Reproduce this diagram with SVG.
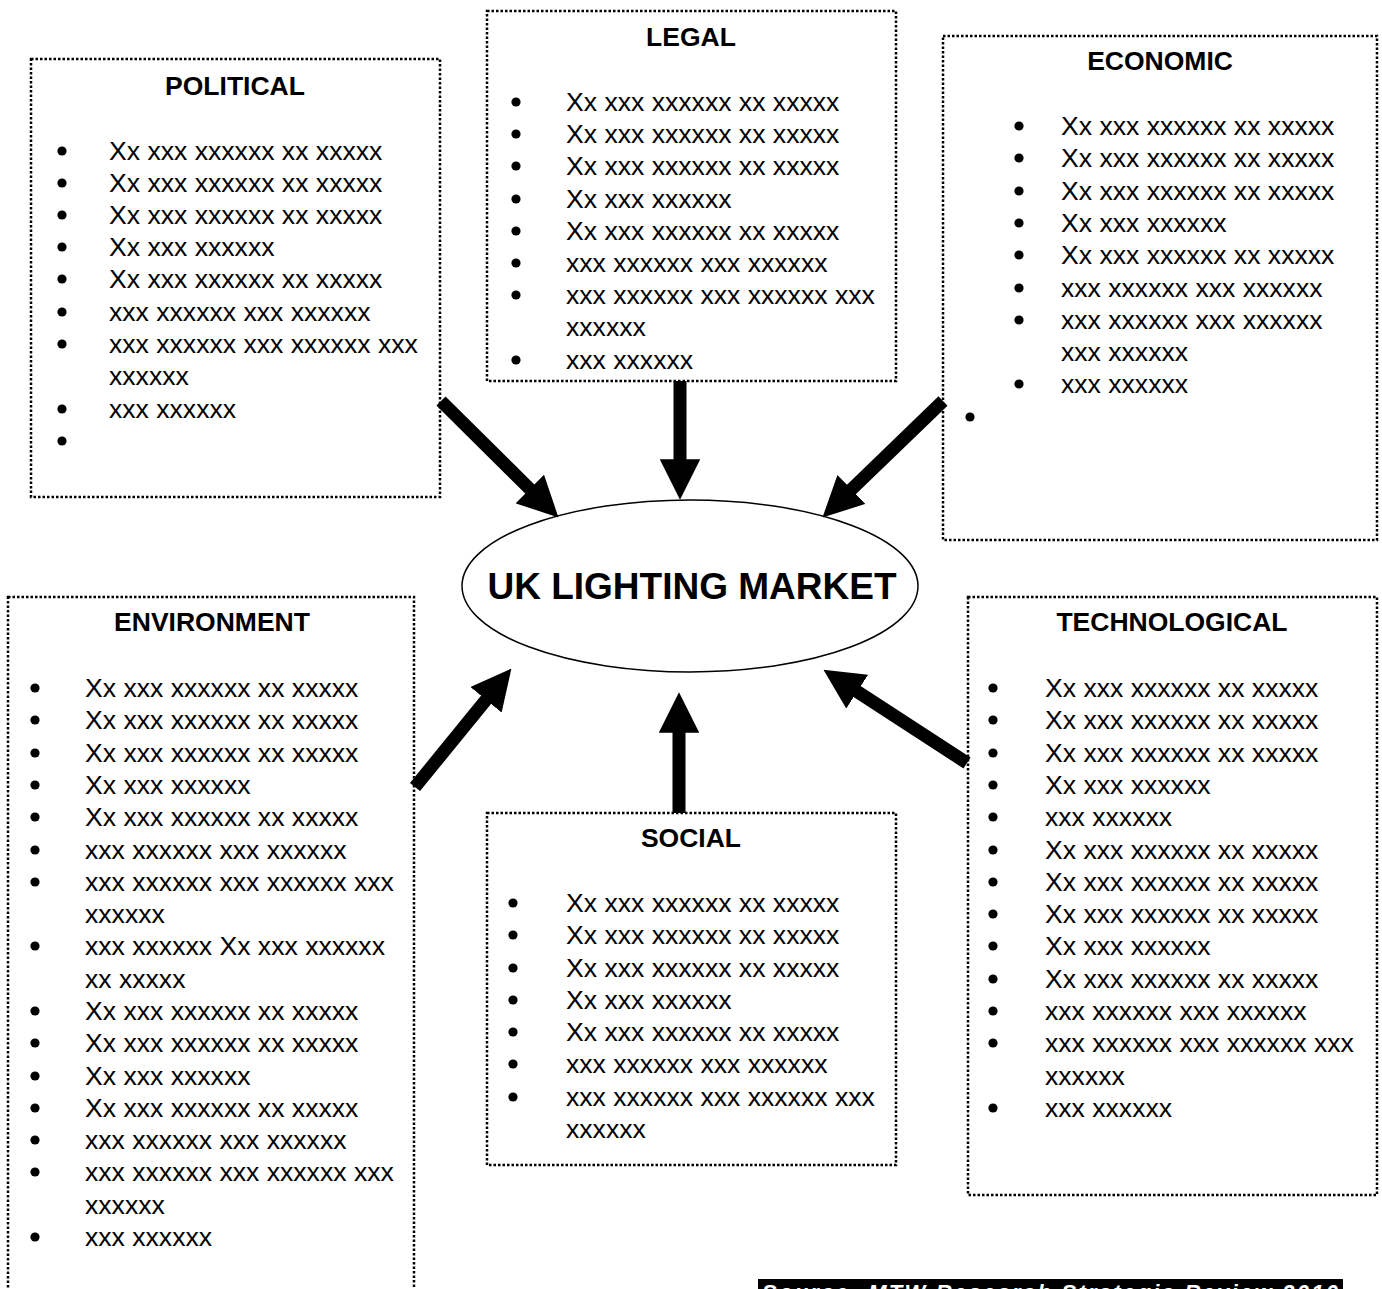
<svg xmlns="http://www.w3.org/2000/svg" width="1382" height="1289" viewBox="0 0 1382 1289">
  <style>
    .box { fill: #ffffff; stroke: #000000; stroke-width: 2.5; stroke-dasharray: 2.5 2; }
    .title { font-family: "Liberation Sans", Arial, sans-serif; font-weight: bold; font-size: 26.5px; text-anchor: middle; fill: #000; }
    .item { font-family: "Liberation Sans", Arial, sans-serif; font-size: 26.6px; fill: #000; }
    .hub { fill: #ffffff; stroke: #000000; stroke-width: 1.5; }
    .hubtext { font-family: "Liberation Sans", Arial, sans-serif; font-weight: bold; font-size: 37px; text-anchor: middle; fill: #000; }
    .arrow { stroke: #000000; stroke-width: 13; fill: none; marker-end: url(#head); }
    .source { font-family: "Liberation Sans", Arial, sans-serif; font-weight: bold; font-style: italic; font-size: 22px; fill: #ffffff; }
  </style>
  <defs>
    <marker id="head" markerUnits="strokeWidth" markerWidth="3.1" markerHeight="3.1" viewBox="0 0 3.1 3.1" refX="0.05" refY="1.55" orient="auto">
      <path d="M0,0 L3.1,1.55 L0,3.1 z" fill="#000000"/>
    </marker>
    <!-- list bullet, centred on its anchor point -->
    <circle id="b" r="4.6" fill="#000000"/>
  </defs>
  <rect width="1382" height="1289" fill="#ffffff"/>

  <!-- POLITICAL -->
  <g id="political">
    <rect class="box" x="31" y="59" width="409" height="438"/>
    <text class="title" x="235" y="95">POLITICAL</text>
    <g transform="translate(62,-9)">
      <use href="#b" y="160"/><use href="#b" y="192"/><use href="#b" y="224"/>
      <use href="#b" y="256"/><use href="#b" y="288"/><use href="#b" y="321"/>
      <use href="#b" y="353"/><use href="#b" y="418"/><use href="#b" y="450"/>
    </g>
    <text class="item" x="109" y="160">Xx xxx xxxxxx xx xxxxx</text>
    <text class="item" x="109" y="192">Xx xxx xxxxxx xx xxxxx</text>
    <text class="item" x="109" y="224">Xx xxx xxxxxx xx xxxxx</text>
    <text class="item" x="109" y="256">Xx xxx xxxxxx</text>
    <text class="item" x="109" y="288">Xx xxx xxxxxx xx xxxxx</text>
    <text class="item" x="109" y="321">xxx xxxxxx xxx xxxxxx</text>
    <text class="item" x="109" y="353">xxx xxxxxx xxx xxxxxx xxx</text>
    <text class="item" x="109" y="385">xxxxxx</text>
    <text class="item" x="109" y="418">xxx xxxxxx</text>
  </g>

  <!-- LEGAL -->
  <g id="legal">
    <rect class="box" x="487" y="11" width="409" height="370"/>
    <text class="title" x="691" y="46">LEGAL</text>
    <g transform="translate(516,-9)">
      <use href="#b" y="111"/><use href="#b" y="143"/><use href="#b" y="175"/>
      <use href="#b" y="208"/><use href="#b" y="240"/><use href="#b" y="272"/>
      <use href="#b" y="304"/><use href="#b" y="369"/>
    </g>
    <text class="item" x="566" y="111">Xx xxx xxxxxx xx xxxxx</text>
    <text class="item" x="566" y="143">Xx xxx xxxxxx xx xxxxx</text>
    <text class="item" x="566" y="175">Xx xxx xxxxxx xx xxxxx</text>
    <text class="item" x="566" y="208">Xx xxx xxxxxx</text>
    <text class="item" x="566" y="240">Xx xxx xxxxxx xx xxxxx</text>
    <text class="item" x="566" y="272">xxx xxxxxx xxx xxxxxx</text>
    <text class="item" x="566" y="304">xxx xxxxxx xxx xxxxxx xxx</text>
    <text class="item" x="566" y="336">xxxxxx</text>
    <text class="item" x="566" y="369">xxx xxxxxx</text>
  </g>

  <!-- ECONOMIC -->
  <g id="economic">
    <rect class="box" x="943" y="36" width="434" height="504"/>
    <text class="title" x="1160" y="70">ECONOMIC</text>
    <g transform="translate(1019,-9)">
      <use href="#b" y="135"/><use href="#b" y="167"/><use href="#b" y="200"/>
      <use href="#b" y="232"/><use href="#b" y="264"/><use href="#b" y="297"/>
      <use href="#b" y="329"/><use href="#b" y="393"/><use href="#b" x="-49" y="426"/>
    </g>
    <text class="item" x="1061" y="135">Xx xxx xxxxxx xx xxxxx</text>
    <text class="item" x="1061" y="167">Xx xxx xxxxxx xx xxxxx</text>
    <text class="item" x="1061" y="200">Xx xxx xxxxxx xx xxxxx</text>
    <text class="item" x="1061" y="232">Xx xxx xxxxxx</text>
    <text class="item" x="1061" y="264">Xx xxx xxxxxx xx xxxxx</text>
    <text class="item" x="1061" y="297">xxx xxxxxx xxx xxxxxx</text>
    <text class="item" x="1061" y="329">xxx xxxxxx xxx xxxxxx</text>
    <text class="item" x="1061" y="361">xxx xxxxxx</text>
    <text class="item" x="1061" y="393">xxx xxxxxx</text>
  </g>

  <!-- ENVIRONMENT -->
  <g id="environment">
    <rect class="box" x="8" y="597" width="406" height="720"/>
    <text class="title" x="212" y="631">ENVIRONMENT</text>
    <g transform="translate(35,-9)">
      <use href="#b" y="697"/><use href="#b" y="729"/><use href="#b" y="762"/>
      <use href="#b" y="794"/><use href="#b" y="826"/><use href="#b" y="859"/>
      <use href="#b" y="891"/><use href="#b" y="955"/><use href="#b" y="1020"/>
      <use href="#b" y="1052"/><use href="#b" y="1085"/><use href="#b" y="1117"/>
      <use href="#b" y="1149"/><use href="#b" y="1181"/><use href="#b" y="1246"/>
    </g>
    <text class="item" x="85" y="697">Xx xxx xxxxxx xx xxxxx</text>
    <text class="item" x="85" y="729">Xx xxx xxxxxx xx xxxxx</text>
    <text class="item" x="85" y="762">Xx xxx xxxxxx xx xxxxx</text>
    <text class="item" x="85" y="794">Xx xxx xxxxxx</text>
    <text class="item" x="85" y="826">Xx xxx xxxxxx xx xxxxx</text>
    <text class="item" x="85" y="859">xxx xxxxxx xxx xxxxxx</text>
    <text class="item" x="85" y="891">xxx xxxxxx xxx xxxxxx xxx</text>
    <text class="item" x="85" y="923">xxxxxx</text>
    <text class="item" x="85" y="955">xxx xxxxxx Xx xxx xxxxxx</text>
    <text class="item" x="85" y="988">xx xxxxx</text>
    <text class="item" x="85" y="1020">Xx xxx xxxxxx xx xxxxx</text>
    <text class="item" x="85" y="1052">Xx xxx xxxxxx xx xxxxx</text>
    <text class="item" x="85" y="1085">Xx xxx xxxxxx</text>
    <text class="item" x="85" y="1117">Xx xxx xxxxxx xx xxxxx</text>
    <text class="item" x="85" y="1149">xxx xxxxxx xxx xxxxxx</text>
    <text class="item" x="85" y="1181">xxx xxxxxx xxx xxxxxx xxx</text>
    <text class="item" x="85" y="1214">xxxxxx</text>
    <text class="item" x="85" y="1246">xxx xxxxxx</text>
  </g>

  <!-- TECHNOLOGICAL -->
  <g id="technological">
    <rect class="box" x="968" y="597" width="409" height="598"/>
    <text class="title" x="1172" y="631">TECHNOLOGICAL</text>
    <g transform="translate(993,-9)">
      <use href="#b" y="697"/><use href="#b" y="729"/><use href="#b" y="762"/>
      <use href="#b" y="794"/><use href="#b" y="826"/><use href="#b" y="859"/>
      <use href="#b" y="891"/><use href="#b" y="923"/><use href="#b" y="955"/>
      <use href="#b" y="988"/><use href="#b" y="1020"/><use href="#b" y="1052"/>
      <use href="#b" y="1117"/>
    </g>
    <text class="item" x="1045" y="697">Xx xxx xxxxxx xx xxxxx</text>
    <text class="item" x="1045" y="729">Xx xxx xxxxxx xx xxxxx</text>
    <text class="item" x="1045" y="762">Xx xxx xxxxxx xx xxxxx</text>
    <text class="item" x="1045" y="794">Xx xxx xxxxxx</text>
    <text class="item" x="1045" y="826">xxx xxxxxx</text>
    <text class="item" x="1045" y="859">Xx xxx xxxxxx xx xxxxx</text>
    <text class="item" x="1045" y="891">Xx xxx xxxxxx xx xxxxx</text>
    <text class="item" x="1045" y="923">Xx xxx xxxxxx xx xxxxx</text>
    <text class="item" x="1045" y="955">Xx xxx xxxxxx</text>
    <text class="item" x="1045" y="988">Xx xxx xxxxxx xx xxxxx</text>
    <text class="item" x="1045" y="1020">xxx xxxxxx xxx xxxxxx</text>
    <text class="item" x="1045" y="1052">xxx xxxxxx xxx xxxxxx xxx</text>
    <text class="item" x="1045" y="1085">xxxxxx</text>
    <text class="item" x="1045" y="1117">xxx xxxxxx</text>
  </g>

  <!-- SOCIAL -->
  <g id="social">
    <rect class="box" x="487" y="813" width="409" height="352"/>
    <text class="title" x="691" y="847">SOCIAL</text>
    <g transform="translate(513,-9)">
      <use href="#b" y="912"/><use href="#b" y="944"/><use href="#b" y="977"/>
      <use href="#b" y="1009"/><use href="#b" y="1041"/><use href="#b" y="1073"/>
      <use href="#b" y="1106"/>
    </g>
    <text class="item" x="566" y="912">Xx xxx xxxxxx xx xxxxx</text>
    <text class="item" x="566" y="944">Xx xxx xxxxxx xx xxxxx</text>
    <text class="item" x="566" y="977">Xx xxx xxxxxx xx xxxxx</text>
    <text class="item" x="566" y="1009">Xx xxx xxxxxx</text>
    <text class="item" x="566" y="1041">Xx xxx xxxxxx xx xxxxx</text>
    <text class="item" x="566" y="1073">xxx xxxxxx xxx xxxxxx</text>
    <text class="item" x="566" y="1106">xxx xxxxxx xxx xxxxxx xxx</text>
    <text class="item" x="566" y="1138">xxxxxx</text>
  </g>

  <!-- central market ellipse -->
  <g id="market">
    <ellipse class="hub" cx="690" cy="586" rx="228" ry="86"/>
    <text class="hubtext" x="692" y="599">UK LIGHTING MARKET</text>
  </g>

  <!-- connectors: thick block arrows into the market -->
  <g id="connectors">
    <line class="arrow" x1="441" y1="401" x2="530.3" y2="489.5"/>
    <line class="arrow" x1="680" y1="381" x2="680" y2="460"/>
    <line class="arrow" x1="943" y1="401" x2="851" y2="489.9"/>
    <line class="arrow" x1="415" y1="787" x2="486.4" y2="699.3"/>
    <line class="arrow" x1="967" y1="763" x2="856.7" y2="691.3"/>
    <line class="arrow" x1="679" y1="813" x2="679" y2="732"/>
  </g>

  <!-- source strip along the bottom edge -->
  <g id="source">
    <rect x="758" y="1279" width="585" height="20" fill="#000000"/>
    <text class="source" x="762" y="1300" textLength="576" lengthAdjust="spacing">Source: MTW Research Strategic Review 2010</text>
  </g>
</svg>
